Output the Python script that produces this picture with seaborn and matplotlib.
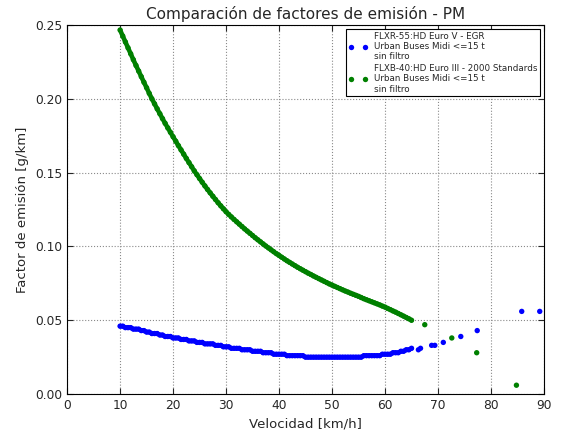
import pandas as pd
import seaborn as sns
import matplotlib
matplotlib.use("Agg")
import matplotlib.pyplot as plt

# velocidades de la parte densa (km/h)
velocidad = [10, 10.5, 11, 11.5, 12, 12.5, 13, 13.5, 14, 14.5, 15, 15.5, 16, 16.5,
             17, 17.5, 18, 18.5, 19, 19.5, 20, 20.5, 21, 21.5, 22, 22.5, 23, 23.5,
             24, 24.5, 25, 25.5, 26, 26.5, 27, 27.5, 28, 28.5, 29, 29.5, 30, 30.5,
             31, 31.5, 32, 32.5, 33, 33.5, 34, 34.5, 35, 35.5, 36, 36.5, 37, 37.5,
             38, 38.5, 39, 39.5, 40, 40.5, 41, 41.5, 42, 42.5, 43, 43.5, 44, 44.5,
             45, 45.5, 46, 46.5, 47, 47.5, 48, 48.5, 49, 49.5, 50, 50.5, 51, 51.5,
             52, 52.5, 53, 53.5, 54, 54.5, 55, 55.5, 56, 56.5, 57, 57.5, 58, 58.5,
             59, 59.5, 60, 60.5, 61, 61.5, 62, 62.5, 63, 63.5, 64, 64.5, 65]

# FLXR-55 (Euro V - EGR)
fe_euro5 = [.046, .046, .045, .045, .045, .044, .044, .044, .043, .043, .042, .042,
            .041, .041, .041, .040, .040, .039, .039, .039, .038, .038, .038, .037,
            .037, .037, .036, .036, .036, .035, .035, .035, .034, .034, .034, .034,
            .033, .033, .033, .032, .032, .032, .031, .031, .031, .031, .030, .030,
            .030, .030, .029, .029, .029, .029, .028, .028, .028, .028, .027, .027,
            .027, .027, .027, .026, .026, .026, .026, .026, .026, .026, .025, .025,
            .025, .025, .025, .025, .025, .025, .025, .025, .025, .025, .025, .025,
            .025, .025, .025, .025, .025, .025, .025, .025, .026, .026, .026, .026,
            .026, .026, .026, .027, .027, .027, .027, .028, .028, .028, .029, .029,
            .030, .030, .031]

# FLXB-40 (Euro III - 2000 Standards)
fe_euro3 = [.2466, .2425, .2385, .2345, .2305, .2265, .2226, .2188, .2150, .2112,
            .2075, .2037, .2000, .1966, .1932, .1899, .1866, .1834, .1803, .1773,
            .1743, .1713, .1683, .1654, .1625, .1596, .1568, .1540, .1512, .1486,
            .1460, .1435, .1410, .1386, .1363, .1340, .1318, .1296, .1275, .1255,
            .1235, .1217, .1200, .1183, .1167, .1151, .1135, .1119, .1104, .1089,
            .1074, .1059, .1045, .1031, .1017, .1003, .0990, .0977, .0964, .0951,
            .0939, .0927, .0915, .0903, .0892, .0881, .0870, .0859, .0849, .0839,
            .0829, .0819, .0810, .0800, .0791, .0782, .0773, .0764, .0755, .0746,
            .0738, .0730, .0722, .0714, .0706, .0698, .0691, .0683, .0676, .0669,
            .0662, .0654, .0646, .0639, .0632, .0625, .0618, .0611, .0604, .0596,
            .0589, .0580, .0572, .0563, .0555, .0546, .0537, .0528, .0519, .0510,
            .0500]

# puntos aislados a alta velocidad
vel_extra_euro5 = [66.3, 66.7, 68.8, 69.4, 71.0, 74.3, 77.4, 85.8, 89.2]
fe_extra_euro5 = [.030, .031, .033, .033, .035, .039, .043, .056, .056]
vel_extra_euro3 = [67.5, 72.6, 77.3, 84.8]
fe_extra_euro3 = [.047, .038, .028, .006]

lab5 = "FLXR-55:HD Euro V - EGR\nUrban Buses Midi <=15 t\nsin filtro"
lab3 = "FLXB-40:HD Euro III - 2000 Standards\nUrban Buses Midi <=15 t\nsin filtro"
colores = {lab5: "#0000ff", lab3: "#008000"}

densa = pd.concat([
    pd.DataFrame({"v": velocidad, "fe": fe_euro5, "serie": lab5}),
    pd.DataFrame({"v": velocidad, "fe": fe_euro3, "serie": lab3}),
])
df = pd.concat([
    pd.DataFrame({"v": velocidad + vel_extra_euro5, "fe": fe_euro5 + fe_extra_euro5, "serie": lab5}),
    pd.DataFrame({"v": velocidad + vel_extra_euro3, "fe": fe_euro3 + fe_extra_euro3, "serie": lab3}),
])

sns.set_style("whitegrid", {"grid.linestyle": ":", "grid.color": "#8a8a8a",
                            "axes.edgecolor": "black", "axes.linewidth": 1.0,
                            "xtick.direction": "in", "ytick.direction": "in",
                            "xtick.bottom": True, "ytick.left": True})
plt.rcParams["font.family"] = ["DejaVu Sans"]

fig, ax = plt.subplots(figsize=(5.64, 4.34), dpi=100)
plt.subplots_adjust(left=0.119, right=0.9645, bottom=0.092, top=0.9424)

# banda continua de la nube densa de puntos
sns.lineplot(data=densa, x="v", y="fe", hue="serie", ax=ax, palette=colores,
             linewidth=3.3, legend=False, sort=False)
sns.scatterplot(data=df, x="v", y="fe", hue="serie", ax=ax, palette=colores,
                s=15, linewidth=0, edgecolor="none", alpha=1)

ax.set_xlim(0, 90)
ax.set_ylim(0, 0.25)
ax.set_xticks(range(0, 91, 10))
ax.set_yticks([0, 0.05, 0.10, 0.15, 0.20, 0.25])
ax.set_yticklabels(["0.00", "0.05", "0.10", "0.15", "0.20", "0.25"])
ax.tick_params(labelsize=8.8, length=4, width=0.8, top=True, right=True)
ax.grid(True, linestyle=":", color="#8a8a8a", linewidth=0.8)

ax.set_xlabel("Velocidad [km/h]", fontsize=9.5)
ax.set_ylabel("Factor de emisión [g/km]", fontsize=9.5)
ax.set_title("Comparación de factores de emisión - PM", fontsize=11, pad=4)

handles, labels = ax.get_legend_handles_labels()
leg = ax.legend(handles, labels, loc="upper right", fontsize=6.3, numpoints=2,
                scatterpoints=2, fancybox=False, framealpha=1, edgecolor="black",
                borderaxespad=0.45, handlelength=2.2, handletextpad=0.7,
                labelspacing=0.3, borderpad=0.3)
leg.get_frame().set_linewidth(0.8)

plt.savefig("out.png", dpi=100)
